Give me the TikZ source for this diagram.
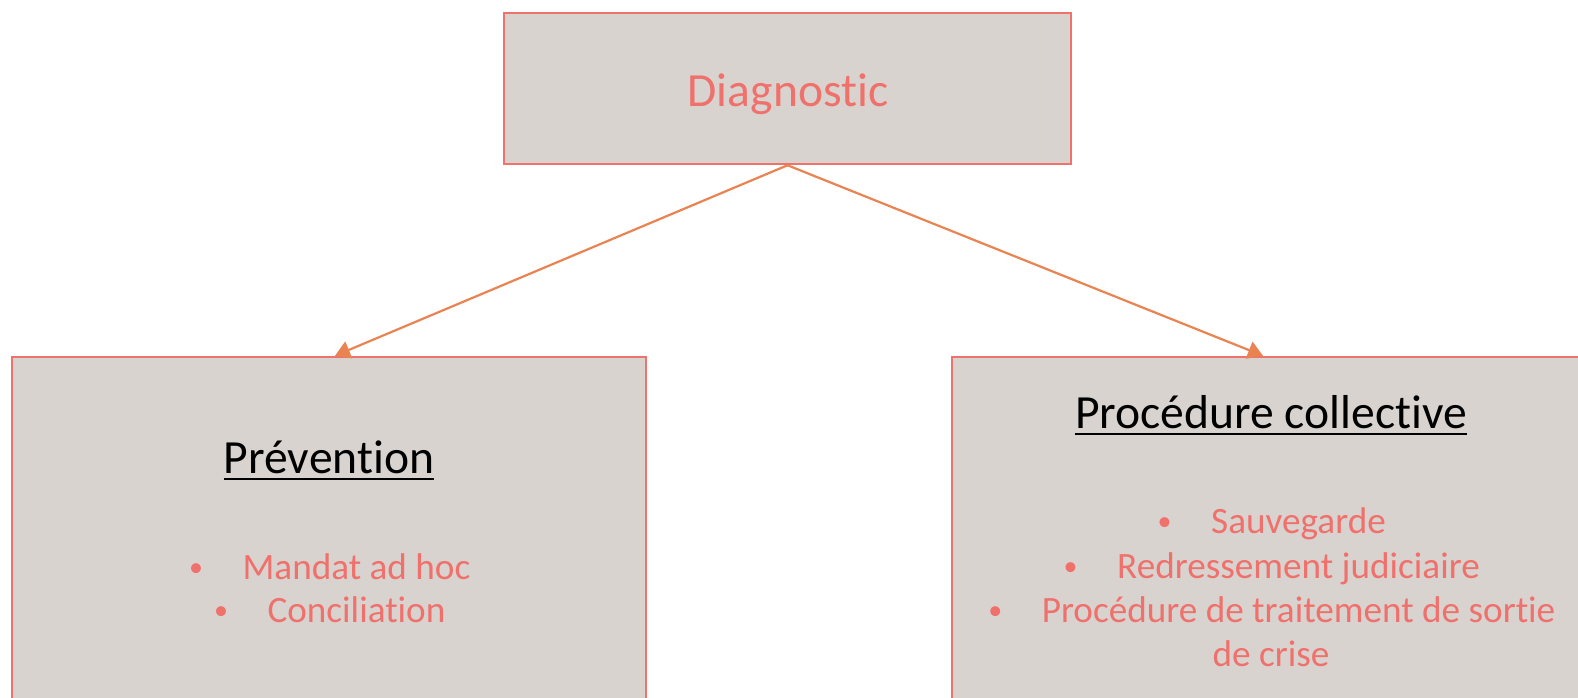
\documentclass[tikz,border=0pt]{standalone}
\usepackage{fontspec}
\setmainfont{Carlito}[Ligatures=NoCommon]
\usetikzlibrary{arrows.meta}
\definecolor{boxfill}{RGB}{216,211,207}
\definecolor{boxline}{RGB}{240,114,108}
\definecolor{salmon}{RGB}{240,112,108}
\definecolor{arrowc}{RGB}{234,131,82}
\newcommand{\bulitem}[1]{\makebox[55pt][l]{\hspace*{1.5pt}\raisebox{2.6pt}{\fontsize{28}{30}\selectfont\textbullet}}#1}
\begin{document}
\begin{tikzpicture}[x=1pt,y=-1pt,
  panel/.style={draw=boxline, fill=boxfill, line width=2.5pt, inner sep=0pt},
  bigtext/.style={anchor=base, inner sep=0pt, font=\fontsize{47.6}{57}\selectfont},
  itemtext/.style={anchor=base, inner sep=0pt, text=salmon, font=\fontsize{37.2}{44}\selectfont},
  link/.style={draw=arrowc, line width=2.2pt, -{Triangle[length=15pt,width=18pt]}},
  uline/.style={line width=2.4pt}]
\useasboundingbox (0,0) rectangle (1578,697);
\clip (0,0) rectangle (1578,697);
\fill[white] (0,0) rectangle (1578,697);

% boxes
\node[panel, minimum width=567pt, minimum height=151pt] (diag) at (787.5,88.5) {};
\node[panel, minimum width=634pt, minimum height=380pt] (prev) at (329,547) {};
\node[panel, minimum width=638pt, minimum height=380pt] (proc) at (1271,547) {};

% connectors
\draw[link] (diag.south) -- ([xshift=6pt]prev.north);
\draw[link] (diag.south) -- ([xshift=-8pt]proc.north);

% titles
\node[bigtext, text=salmon] (diagt) at (788,106) {Diagnostic};
\node[bigtext] (prevt) at (329,473) {Prévention};
\node[bigtext] (proct) at (1271,428) {Procédure collective};
\draw[uline] ([yshift=-6pt]prevt.base west) -- ([yshift=-6pt]prevt.base east);
\draw[uline] ([yshift=-6pt]proct.base west) -- ([yshift=-6pt]proct.base east);

% lists
\node[itemtext] (l1) at (329,579) {\bulitem{Mandat ad hoc}};
\node[itemtext] (l2) at (329,622) {\bulitem{Conciliation}};
\node[itemtext] (r1) at (1271,533) {\bulitem{Sauvegarde}};
\node[itemtext] (r2) at (1271,578) {\bulitem{Redressement judiciaire}};
\node[itemtext] (r3) at (1271,622) {\bulitem{Procédure de traitement de sortie}};
\node[itemtext] (r4) at (1271,666) {de crise};
\end{tikzpicture}
\end{document}
